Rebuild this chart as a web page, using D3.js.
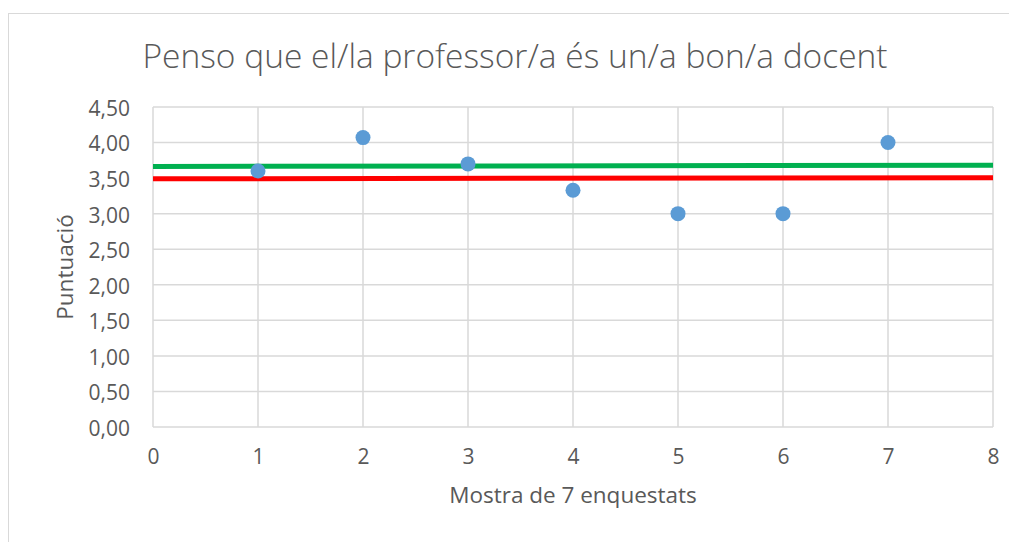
<!DOCTYPE html>
<html>
<head>
<meta charset="utf-8">
<script src="https://cdn.jsdelivr.net/npm/d3@7"></script>
<style>
body{margin:0;background:#fff;}
text{font-family:"Open Sans",sans-serif;fill:#595959;}
</style>
</head>
<body>
<div id="chart"></div>
<script>
// data
var samples = [1, 2, 3, 4, 5, 6, 7];
var scores = [3.60, 4.07, 3.70, 3.33, 3.00, 3.00, 4.00];
var greenLine = [3.665, 3.68];   // at x = 0 and x = 8
var redLine = [3.49, 3.505];
var lineX = [0, 8];
var yTicks = [0, 0.5, 1, 1.5, 2, 2.5, 3, 3.5, 4, 4.5];
var xTicks = [0, 1, 2, 3, 4, 5, 6, 7, 8];

var W = 1009, H = 542;
var margin = {t: 107, r: 16, b: 115, l: 153};
var width = W - margin.l - margin.r,
    height = H - margin.t - margin.b;

var svg = d3.select('#chart').append('svg')
    .attr('width', W)
    .attr('height', H);

// chart border (right and bottom run off the page)
svg.append('rect')
    .attr('x', 8.5).attr('y', 13.5)
    .attr('width', 1100).attr('height', 600)
    .attr('fill', 'none').attr('stroke', '#d9d9d9').attr('stroke-width', 1);

var plot = svg.append('g')
    .attr('transform', 'translate(' + margin.l + ',' + margin.t + ')');

var x = d3.scaleLinear().domain([0, 8]).range([0, width]);
var y = d3.scaleLinear().domain([0, 4.5]).range([height, 0]);

var fmt = function(d){ return d3.format('.2f')(d).replace('.', ','); };

// gridlines
plot.append('g').selectAll('line.h')
    .data(yTicks).enter().append('line')
    .attr('x1', 0).attr('x2', width)
    .attr('y1', function(d){ return y(d); })
    .attr('y2', function(d){ return y(d); })
    .attr('stroke', '#d9d9d9').attr('stroke-width', 1.5);

plot.append('g').selectAll('line.v')
    .data(xTicks).enter().append('line')
    .attr('y1', 0).attr('y2', height)
    .attr('x1', function(d){ return x(d); })
    .attr('x2', function(d){ return x(d); })
    .attr('stroke', '#d9d9d9').attr('stroke-width', 1.5);

// axes (labels only)
var yAxis = d3.axisLeft(y).tickValues(yTicks).tickFormat(fmt).tickSize(0).tickPadding(23);
var xAxis = d3.axisBottom(x).tickValues(xTicks).tickFormat(d3.format('d')).tickSize(0).tickPadding(22);

var gy = plot.append('g').call(yAxis);
var gx = plot.append('g').attr('transform', 'translate(0,' + height + ')').call(xAxis);
[gy, gx].forEach(function(g){
    g.select('.domain').remove();
    g.selectAll('text').style('font-size', '21px').attr('fill', '#595959');
});
gy.selectAll('text').attr('dy', '0.4em');

// reference lines
var line = d3.line()
    .x(function(d){ return x(d[0]); })
    .y(function(d){ return y(d[1]); });

plot.append('path')
    .datum(lineX.map(function(v, i){ return [v, redLine[i]]; }))
    .attr('d', line)
    .attr('fill', 'none').attr('stroke', '#ff0000').attr('stroke-width', 5);

plot.append('path')
    .datum(lineX.map(function(v, i){ return [v, greenLine[i]]; }))
    .attr('d', line)
    .attr('fill', 'none').attr('stroke', '#00b050').attr('stroke-width', 5);

// points
plot.append('g').selectAll('circle')
    .data(samples).enter().append('circle')
    .attr('cx', function(d){ return x(d); })
    .attr('cy', function(d, i){ return y(scores[i]); })
    .attr('r', 7.5)
    .attr('fill', '#5b9bd5');

// titles
svg.append('text')
    .attr('x', 515).attr('y', 68)
    .attr('text-anchor', 'middle')
    .style('font-size', '33.5px').style('font-weight', 300)
    .text('Penso que el/la professor/a és un/a bon/a docent');

svg.append('text')
    .attr('x', 573).attr('y', 503)
    .attr('text-anchor', 'middle')
    .style('font-size', '22.5px')
    .text('Mostra de 7 enquestats');

svg.append('text')
    .attr('transform', 'translate(73,' + (margin.t + height / 2) + ') rotate(-90)')
    .attr('text-anchor', 'middle')
    .style('font-size', '22.5px')
    .text('Puntuació');
</script>
</body>
</html>
